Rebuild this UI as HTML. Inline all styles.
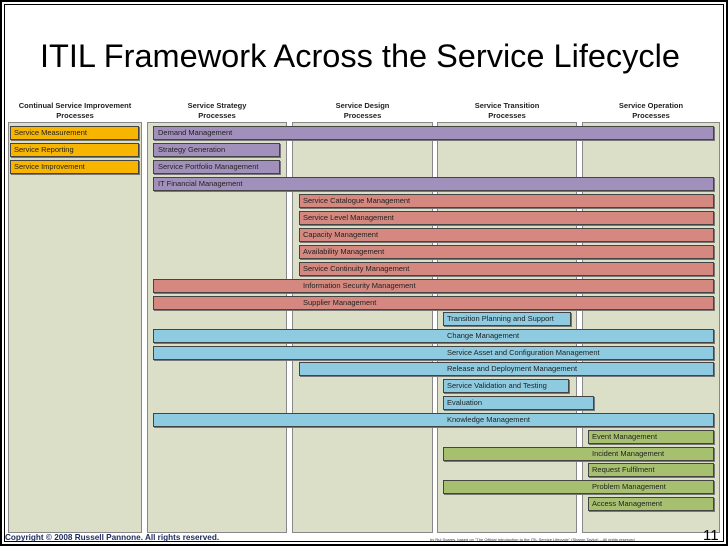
<!DOCTYPE html>
<html><head><meta charset="utf-8"><style>
body{margin:0;width:728px;height:546px;overflow:hidden;background:#fff;position:relative;font-family:"Liberation Sans",sans-serif}
.a{position:absolute}
.p{position:absolute;top:122px;height:411px;background:#dcdfc8;border:1px solid #888;box-sizing:border-box}
.h{position:absolute;top:101px;font-size:7.5px;font-weight:bold;color:#222;text-align:center;line-height:10px}
.b{position:absolute;height:14px;box-sizing:border-box;border:1px solid #444;font-size:7.5px;line-height:12px;color:#222;white-space:nowrap;box-shadow:1px 1px 0 #777}
.o{background:#f7b500}.u{background:#a290bc}.r{background:#d4887f}.c{background:#8ecbe0}.g{background:#a6c070}
</style></head><body>
<div class="a" style="left:0;top:0;width:728px;height:546px;box-sizing:border-box;border:2px solid #000"></div>
<div class="a" style="left:4px;top:4px;width:720px;height:538px;box-sizing:border-box;border:1px solid #000"></div>
<div class="a" style="left:40px;top:38px;font-size:32.5px;color:#000">ITIL Framework Across the Service Lifecycle</div>
<div class="p" style="left:8px;width:134px"></div>
<div class="p" style="left:147px;width:140px"></div>
<div class="p" style="left:292px;width:141px"></div>
<div class="p" style="left:437px;width:140px"></div>
<div class="p" style="left:582px;width:138px"></div>
<div class="h" style="left:8px;width:134px">Continual Service Improvement<br>Processes</div>
<div class="h" style="left:147px;width:140px">Service Strategy<br>Processes</div>
<div class="h" style="left:292px;width:141px">Service Design<br>Processes</div>
<div class="h" style="left:437px;width:140px">Service Transition<br>Processes</div>
<div class="h" style="left:582px;width:138px">Service Operation<br>Processes</div>

<div class="b o" style="left:10px;top:126px;width:129px;padding-left:3px">Service Measurement</div>
<div class="b o" style="left:10px;top:143px;width:129px;padding-left:3px">Service Reporting</div>
<div class="b o" style="left:10px;top:160px;width:129px;padding-left:3px">Service Improvement</div>

<div class="b u" style="left:153px;top:126px;width:561px;padding-left:4px">Demand Management</div>
<div class="b u" style="left:153px;top:143px;width:127px;padding-left:4px">Strategy Generation</div>
<div class="b u" style="left:153px;top:160px;width:127px;padding-left:4px">Service Portfolio Management</div>
<div class="b u" style="left:153px;top:177px;width:561px;padding-left:4px">IT Financial Management</div>

<div class="b r" style="left:299px;top:194px;width:415px;padding-left:3px">Service Catalogue Management</div>
<div class="b r" style="left:299px;top:211px;width:415px;padding-left:3px">Service Level Management</div>
<div class="b r" style="left:299px;top:228px;width:415px;padding-left:3px">Capacity Management</div>
<div class="b r" style="left:299px;top:245px;width:415px;padding-left:3px">Availability Management</div>
<div class="b r" style="left:299px;top:262px;width:415px;padding-left:3px">Service Continuity Management</div>
<div class="b r" style="left:153px;top:279px;width:561px;padding-left:149px">Information Security Management</div>
<div class="b r" style="left:153px;top:296px;width:561px;padding-left:149px">Supplier Management</div>

<div class="b c" style="left:443px;top:312px;width:128px;padding-left:3px">Transition Planning and Support</div>
<div class="b c" style="left:153px;top:329px;width:561px;padding-left:293px">Change Management</div>
<div class="b c" style="left:153px;top:346px;width:561px;padding-left:293px">Service Asset and Configuration Management</div>
<div class="b c" style="left:299px;top:362px;width:415px;padding-left:147px">Release and Deployment Management</div>
<div class="b c" style="left:443px;top:379px;width:126px;padding-left:3px">Service Validation and Testing</div>
<div class="b c" style="left:443px;top:396px;width:151px;padding-left:3px">Evaluation</div>
<div class="b c" style="left:153px;top:413px;width:561px;padding-left:293px">Knowledge Management</div>

<div class="b g" style="left:588px;top:430px;width:126px;padding-left:3px">Event Management</div>
<div class="b g" style="left:443px;top:447px;width:271px;padding-left:148px">Incident Management</div>
<div class="b g" style="left:588px;top:463px;width:126px;padding-left:3px">Request Fulfilment</div>
<div class="b g" style="left:443px;top:480px;width:271px;padding-left:148px">Problem Management</div>
<div class="b g" style="left:588px;top:497px;width:126px;padding-left:3px">Access Management</div>

<div class="a" style="left:5px;top:533px;font-size:8.2px;font-weight:bold;color:#1c2a5a">Copyright © 2008 Russell Pannone. All rights reserved.</div>
<div class="a" style="left:430px;top:537px;font-size:4px;color:#334">by Rui Soares, based on "The Official Introduction to the ITIL Service Lifecycle" (Sharon Taylor) – All rights reserved</div>
<div class="a" style="left:703px;top:527px;font-size:15px;color:#000">11</div>
</body></html>
